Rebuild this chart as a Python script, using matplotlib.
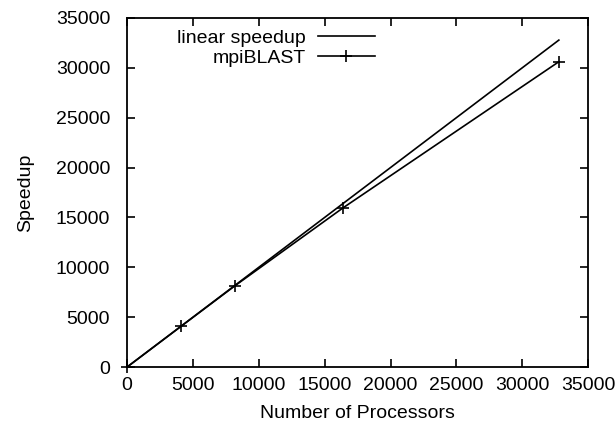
import matplotlib
matplotlib.use('Agg')
import matplotlib.pyplot as plt

plt.rcParams['font.family'] = ['Liberation Sans', 'DejaVu Sans']

# processor counts and measured speedups
procs = [0, 4096, 8192, 16384, 32768]
linear = [0, 4096, 8192, 16384, 32768]
mpiblast = [0, 4080, 8150, 15950, 30600]

x_ticks = [0, 5000, 10000, 15000, 20000, 25000, 30000, 35000]
y_ticks = [0, 5000, 10000, 15000, 20000, 25000, 30000, 35000]

fig = plt.figure(figsize=(6.16, 4.24), dpi=100)
ax = fig.add_axes([0.206, 0.134, 0.749, 0.824])

ax.plot(procs, linear, color='black', lw=1.2, label='linear speedup')
ax.plot(procs, mpiblast, color='black', lw=1.2, marker='+', markersize=9,
        markeredgewidth=1.2, clip_on=False, label='mpiBLAST')

ax.set_xlim(0, 35000)
ax.set_ylim(0, 35000)
ax.set_xticks(x_ticks)
ax.set_yticks(y_ticks)
ax.tick_params(direction='in', length=6, width=1.2, top=True, right=True,
               labelsize=14)
ax.tick_params(axis='x', pad=7)
ax.tick_params(axis='y', pad=12)
for s in ax.spines.values():
    s.set_linewidth(1.3)

ax.set_xlabel('Number of Processors', fontsize=14, labelpad=8)
ax.set_ylabel('Speedup', fontsize=14, labelpad=16)

leg = ax.legend(loc='upper right', bbox_to_anchor=(0.562, 1.0), frameon=False,
                markerfirst=False, fontsize=14, handlelength=2.9,
                handletextpad=0.65, labelspacing=0.1, borderaxespad=0.2)
for t in leg.get_texts():
    t.set_ha('right')
leg._legend_box.align = 'right'

fig.savefig('out.png', dpi=100)
